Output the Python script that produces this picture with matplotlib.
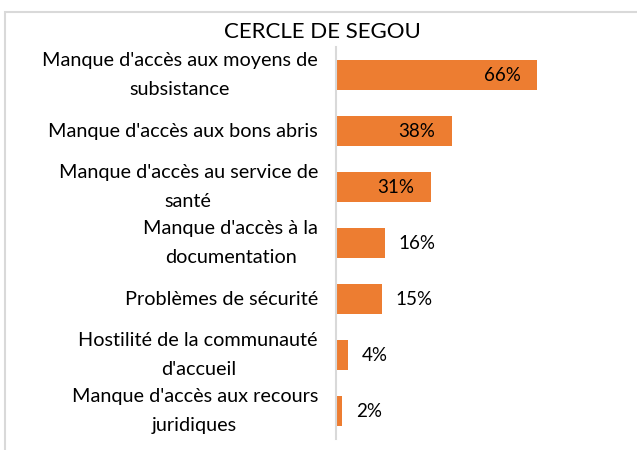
import matplotlib.pyplot as plt
from matplotlib.patches import Rectangle

# Data
categories = [
    "Manque d'accès aux moyens de\nsubsistance",
    "Manque d'accès aux bons abris",
    "Manque d'accès au service de\nsanté",
    "Manque d'accès à la\ndocumentation",
    "Problèmes de sécurité",
    "Hostilité de la communauté\nd'accueil",
    "Manque d'accès aux recours\njuridiques",
]
values = [66, 38, 31, 16, 15, 4, 2]

plt.rcParams['font.family'] = ['Lato', 'DejaVu Sans']

fig = plt.figure(figsize=(6.37, 4.5), dpi=100)

# outer chart frame (cut off at right and bottom like the reference)
fig.patches.append(Rectangle((5 / 637, -0.1), 1.2, 1 - 12 / 450 + 0.1,
                             transform=fig.transFigure, fill=False,
                             edgecolor='#d9d9d9', linewidth=1.5))

ax = fig.add_axes([336 / 637, 1 - 439 / 450, 0.45, (439 - 47) / 450])

y = list(range(len(categories)))
ax.barh(y, values, height=0.54, color='#ED7D31')
ax.set_ylim(len(categories) - 0.5, -0.5)
ax.set_xlim(0, 94)

for yi, v in zip(y, values):
    if v >= 30:
        ax.text(v - 5.5, yi, f'{v}%', ha='right', va='center', fontsize=13.5)
    else:
        ax.text(v + 4.5, yi, f'{v}%', ha='left', va='center', fontsize=13.5)

ax.set_yticks(y)
ax.set_yticklabels(categories, fontsize=14.3, multialignment='center', linespacing=1.85)
for lab in ax.get_yticklabels():
    lab.set_va('center')
ax.tick_params(axis='y', length=0, pad=13)
ax.set_xticks([])
for s in ['top', 'right', 'bottom']:
    ax.spines[s].set_visible(False)
ax.spines['left'].set_color('#d9d9d9')
ax.spines['left'].set_linewidth(1.5)

fig.text(322 / 637, 1 - 32 / 450, 'CERCLE DE SEGOU', ha='center', va='center', fontsize=16)

fig.savefig('out.png', dpi=100)
